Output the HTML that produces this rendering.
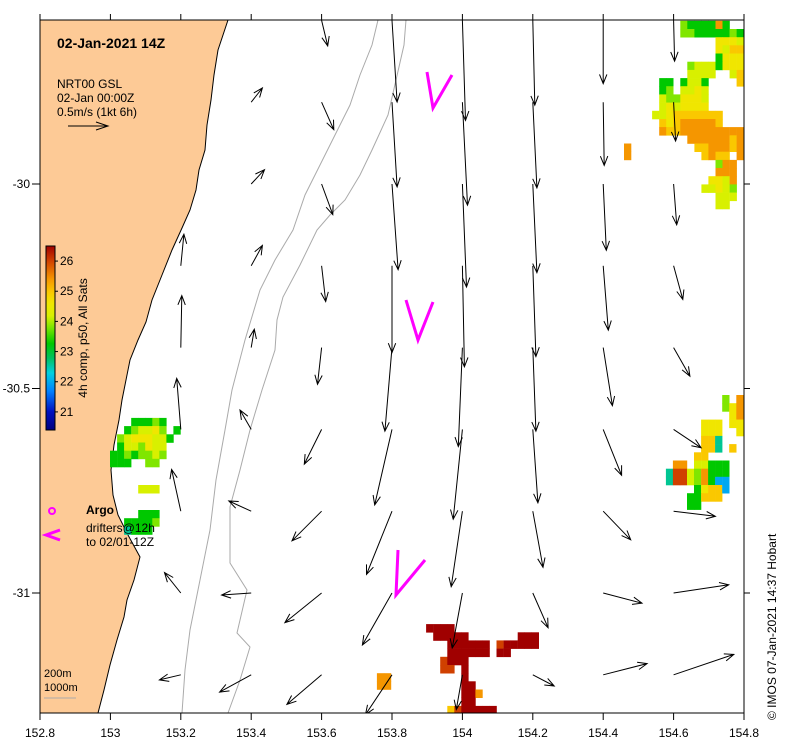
<!DOCTYPE html>
<html><head><meta charset="utf-8">
<style>
body{margin:0;background:#fff;}
svg{display:block;font-family:"Liberation Sans",sans-serif;}
</style></head>
<body>
<svg id="chart" width="789" height="750" viewBox="0 0 789 750" xmlns="http://www.w3.org/2000/svg">
<rect x="0" y="0" width="789" height="750" fill="#fff"/>
<defs><clipPath id="plotclip"><rect x="40" y="20" width="704" height="693"/></clipPath></defs>
<g clip-path="url(#plotclip)">
<path fill="#fdca96" stroke="#000" stroke-width="1"
 d="M40,20 L228,20 L224,32 L218,50 L214,75 L211,100 L207,125 L205,150 L199,170 L196,190 L190,210 L182,228 L172,250 L162,275 L152,300 L146,322 L138,340 L130,360 L126,380 L122,400 L119,420 L114,445 L111,470 L113,495 L118,515 L128,535 L140,557 L134,580 L127,600 L124,617 L117,640 L110,665 L104,690 L98,713 L40,713 Z"/>
<path fill="none" stroke="#aaa" stroke-width="1"
 d="M378,20 L372,45 L360,75 L350,105 L335,135 L320,165 L305,195 L293,230 L275,260 L260,290 L245,340 L232,390 L225,430 L216,480 L210,530 L200,580 L190,630 L185,670 L182,713"/>
<path fill="none" stroke="#aaa" stroke-width="1"
 d="M406,20 L404,45 L396,80 L388,115 L372,150 L360,175 L345,200 L330,215 L317,230 L300,265 L283,297 L277,320 L275,350 L262,390 L250,430 L240,470 L230,507 L230,563 L247,590 L237,633 L250,647 L240,680 L228,713"/>
<g id="sst"></g>
<g id="arrows"></g>
<g stroke="#ff00ff" stroke-width="3" fill="none">
<path d="M427,72 L433,108 L452,75"/>
<path d="M406,300 L418,340 L433,302"/>
<path d="M398,550 L396,595 L425,560"/>
</g>
</g>
<rect x="40" y="20" width="704" height="693" fill="none" stroke="#000" stroke-width="1"/>
<g id="axes" font-size="12" fill="#000"></g>

<text x="57" y="48" font-size="14" font-weight="bold">02-Jan-2021 14Z</text>
<text x="57" y="88" font-size="12">NRT00 GSL</text>
<text x="57" y="102" font-size="12">02-Jan 00:00Z</text>
<text x="57" y="116" font-size="12">0.5m/s (1kt 6h)</text>
<g stroke="#000" stroke-width="1" fill="none">
<path d="M68,126 L108,126 M96,122 L108,126 L96,130"/>
</g>

<g>
<defs><linearGradient id="cbg" x1="0" y1="1" x2="0" y2="0">
<stop offset="0" stop-color="#00007f"/>
<stop offset="0.1" stop-color="#0010c0"/>
<stop offset="0.21" stop-color="#0080ff"/>
<stop offset="0.31" stop-color="#00d0e0"/>
<stop offset="0.39" stop-color="#00c060"/>
<stop offset="0.47" stop-color="#00c800"/>
<stop offset="0.56" stop-color="#80e600"/>
<stop offset="0.62" stop-color="#d8f000"/>
<stop offset="0.69" stop-color="#f0e600"/>
<stop offset="0.75" stop-color="#fac800"/>
<stop offset="0.82" stop-color="#f59600"/>
<stop offset="0.92" stop-color="#d04000"/>
<stop offset="1" stop-color="#a00000"/>
</linearGradient></defs>
<rect x="46" y="246" width="9" height="184" fill="url(#cbg)" stroke="#000" stroke-width="1"/>
<g id="cbticks" font-size="12"></g>
<text transform="translate(87,338) rotate(-90)" text-anchor="middle" font-size="12">4h comp, p50, All Sats</text>
</g>

<g>
<circle cx="52" cy="511" r="3" fill="none" stroke="#ff00ff" stroke-width="2"/>
<path d="M60,530 L46,535 L60,540" stroke="#ff00ff" stroke-width="3" fill="none"/>
<text x="86" y="514" font-size="12" font-weight="bold">Argo</text>
<text x="86" y="532" font-size="12">drifters@12h</text>
<text x="86" y="546" font-size="12">to 02/01-12Z</text>
<text x="44" y="677" font-size="11">200m</text>
<text x="44" y="691" font-size="11">1000m</text>
<line x1="44" y1="698" x2="76" y2="698" stroke="#aaa" stroke-width="1"/>
</g>
<text transform="translate(776,720) rotate(-90)" font-size="12">©  IMOS 07-Jan-2021 14:37 Hobart</text>
</svg>

<script>
// ---- data ----
const xTickLabels = ["152.8","153","153.2","153.4","153.6","153.8","154","154.2","154.4","154.6","154.8"];
const xTickValues = [152.8,153,153.2,153.4,153.6,153.8,154,154.2,154.4,154.6,154.8];
const yTickLabels = ["-30","-30.5","-31"];
const yTickValues = [-30,-30.5,-31];
const cbTickValues = [21,22,23,24,25,26];

const arrowLon = [153.2,153.2,153.2,153.2,153.2,153.2,
 153.4,153.4,153.4,153.4,153.4,153.4,153.4,153.4,
 153.6,153.6,153.6,153.6,153.6,153.6,153.6,153.6,153.6,
 153.8,153.8,153.8,153.8,153.8,153.8,153.8,153.8,153.8,
 154.0,154.0,154.0,154.0,154.0,154.0,154.0,154.0,154.0,
 154.2,154.2,154.2,154.2,154.2,154.2,154.2,154.2,154.2,
 154.4,154.4,154.4,154.4,154.4,154.4,154.4,154.4,154.4,
 154.6,154.6,154.6,154.6,154.6,154.6,154.6,154.6,154.6];
const arrowLat = [-30.2,-30.4,-30.6,-30.8,-31.0,-31.2,
 -29.8,-30.0,-30.2,-30.4,-30.6,-30.8,-31.0,-31.2,
 -29.6,-29.8,-30.0,-30.2,-30.4,-30.6,-30.8,-31.0,-31.2,
 -29.6,-29.8,-30.0,-30.2,-30.4,-30.6,-30.8,-31.0,-31.2,
 -29.6,-29.8,-30.0,-30.2,-30.4,-30.6,-30.8,-31.0,-31.2,
 -29.6,-29.8,-30.0,-30.2,-30.4,-30.6,-30.8,-31.0,-31.2,
 -29.6,-29.8,-30.0,-30.2,-30.4,-30.6,-30.8,-31.0,-31.2,
 -29.6,-29.8,-30.0,-30.2,-30.4,-30.6,-30.8,-31.0,-31.2];
const arrowU = [0.03,0.01,-0.04,-0.09,-0.16,-0.21,
 0.11,0.13,0.11,0.03,-0.11,-0.22,-0.29,-0.31,
 0.06,0.12,0.11,0.04,-0.04,-0.17,-0.29,-0.36,-0.34,
 0.05,0.05,0.06,0,-0.07,-0.17,-0.25,-0.29,-0.26,
 0.03,0.05,0.04,0.02,-0.04,-0.09,-0.11,-0.10,-0.06,
 0.02,0.04,0.04,0.03,0.03,0.05,0.10,0.15,0.21,
 0,0.01,0.03,0.05,0.09,0.18,0.27,0.38,0.43,
 0.01,0.02,0.03,0.09,0.16,0.27,0.41,0.54,0.59];
const arrowV = [0.31,0.51,0.50,0.41,0.20,-0.05,
 0.14,0.14,0.20,0.18,0.19,0.10,-0.02,-0.17,
 -0.25,-0.27,-0.30,-0.35,-0.36,-0.34,-0.29,-0.29,-0.29,
 -0.80,-0.83,-0.84,-0.85,-0.82,-0.74,-0.62,-0.51,-0.39,
 -0.98,-1.01,-1.01,-0.99,-0.97,-0.88,-0.74,-0.54,-0.34,
 -0.83,-0.84,-0.87,-0.89,-0.82,-0.72,-0.55,-0.34,-0.11,
 -0.62,-0.62,-0.65,-0.63,-0.57,-0.45,-0.28,-0.10,0.11,
 -0.40,-0.38,-0.40,-0.33,-0.28,-0.18,-0.05,0.08,0.20];

const sstCodes = {c:22.6,b:22.0,g:23.3,G:23.8,y:24.2,Y:24.6,o:25.0,O:25.4,r:26.0,R:26.5};
const patchLon0 = [154.459,154.578,152.999,153.059,153.039,153.897,153.757];
const patchLat0 = [-29.601,-30.516,-30.572,-30.736,-30.797,-31.076,-31.196];
const patchRows = [
 ["........GggggOg..","........GGgggggGg",".............YYYy",".............Yyoo",".............gYYY",
  ".........GyyygYYY",".........yyyy..yo",".....gg.gyyg....o",".....gG.yyYy.....",".....yGGYYYy.....",
  ".....yYyYYYY.....","....yyYooooooo...",".....oYoOOOOOo...",".....OooOOOOOOOOO",".........OOOOOOoO",
  "O.........ooOOOoO","O..........oOoo.O",".............GOO.",".............OOO.","............YYyO.",
  "...........yyYyG.",".............yyy.",".............yy.."],
 ["........G.O","........GYO",".........YO",".....YYY.YY",".....YYY..Y",".....ooc...",".....ooc.o.",
  "....oo.....",".OO.yyggg..","crryGOggg..","crryGOgbb..","....gYoob..","...ggooo...","...gg......"],
 ["...gggGg..","..gGyyYG.g",".GyYYYyyg.",".gyyGYyy..","ggGgGGyG..","ggg..GG..."],
 [".yyy"],
 ["..ggg","ggggG","cggg."],
 ["RRRR............",".RRRRR.......RRR","...RRRRRR.rRRRRR","...RRRRRR.RR....","..rRRR..........",
  "..rr.R..........",".....R..........",".....RR.........",".....RRO........",".....RR.........","...orRRRRR......"],
 ["OO","OO"]
];

const X = lon => 40 + (lon - 152.8) * 352;
const Y = lat => 184 - (lat + 30) * 409;
const PX_PER_MS = 102;
const NS = "http://www.w3.org/2000/svg";
function mk(tag, attrs, parent){ const e=document.createElementNS(NS,tag); for(const k in attrs) e.setAttribute(k,attrs[k]); parent.appendChild(e); return e; }

const cstops = [[20.4,[0,0,127]],[21,[0,16,192]],[21.7,[0,128,255]],[22.3,[0,208,224]],[22.8,[0,192,96]],[23.3,[0,200,0]],[23.8,[128,230,0]],[24.2,[216,240,0]],[24.6,[240,230,0]],[25,[250,200,0]],[25.4,[245,150,0]],[26,[208,64,0]],[26.5,[160,0,0]]];
function tcolor(t){
  if(t<=cstops[0][0]) return "rgb("+cstops[0][1]+")";
  for(let i=1;i<cstops.length;i++){
    if(t<=cstops[i][0]){ const a=cstops[i-1],b=cstops[i]; const f=(t-a[0])/(b[0]-a[0]);
      const c=a[1].map((v,j)=>Math.round(v+(b[1][j]-v)*f)); return "rgb("+c.join(",")+")"; }
  }
  return "rgb("+cstops[cstops.length-1][1]+")";
}

const sstG = document.getElementById("sst");
const cw = 0.02*352, ch = 0.02*409;
patchRows.forEach((rows,p)=>{
  rows.forEach((row,r)=>{
    for(let c=0;c<row.length;c++){
      const code=row[c]; if(!(code in sstCodes)) continue;
      const lon = patchLon0[p] + c*0.02, lat = patchLat0[p] - r*0.02;
      const el = mk("rect",{x:X(lon).toFixed(1),y:Y(lat).toFixed(1),width:(cw+0.3).toFixed(1),height:(ch+0.3).toFixed(1),fill:tcolor(sstCodes[code])},sstG);
      
      
    }
  });
});

const arG = document.getElementById("arrows");
for(let i=0;i<arrowLon.length;i++){
  const x0=X(arrowLon[i]), y0=Y(arrowLat[i]);
  const dx=arrowU[i]*PX_PER_MS, dy=-arrowV[i]*PX_PER_MS;
  const x1=x0+dx, y1=y0+dy;
  const ang=Math.atan2(dy,dx), L=10, s=0.38;
  const hx1=x1-L*Math.cos(ang-s), hy1=y1-L*Math.sin(ang-s);
  const hx2=x1-L*Math.cos(ang+s), hy2=y1-L*Math.sin(ang+s);
  const el = mk("path",{d:"M"+x0.toFixed(1)+","+y0.toFixed(1)+" L"+x1.toFixed(1)+","+y1.toFixed(1)+" M"+hx1.toFixed(1)+","+hy1.toFixed(1)+" L"+x1.toFixed(1)+","+y1.toFixed(1)+" L"+hx2.toFixed(1)+","+hy2.toFixed(1),stroke:"#000","stroke-width":1,fill:"none"},arG);
  
  
}

const axG = document.getElementById("axes");
xTickValues.forEach((v,i)=>{
  const x=X(v);
  mk("line",{x1:x,y1:20,x2:x,y2:14,stroke:"#000"},axG);
  mk("line",{x1:x,y1:713,x2:x,y2:720,stroke:"#000"},axG);
  const t=mk("text",{x:x,y:737,"text-anchor":"middle"},axG); t.textContent=xTickLabels[i];
  
  
});
yTickValues.forEach((v,i)=>{
  const y=Y(v);
  mk("line",{x1:32,y1:y,x2:40,y2:y,stroke:"#000"},axG);
  mk("line",{x1:744,y1:y,x2:750,y2:y,stroke:"#000"},axG);
  const t=mk("text",{x:30,y:y+4,"text-anchor":"end"},axG); t.textContent=yTickLabels[i];
  
  
});
const cbG=document.getElementById("cbticks");
const cbY = t => 430 - (t-20.4)/(26.5-20.4)*184;
cbTickValues.forEach(v=>{
  const y=cbY(v);
  mk("line",{x1:55,y1:y,x2:58,y2:y,stroke:"#000"},cbG);
  const t=mk("text",{x:60,y:y+4},cbG); t.textContent=String(v);
  
  
});
</script>
</body></html>
